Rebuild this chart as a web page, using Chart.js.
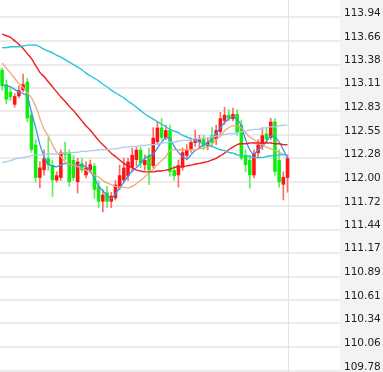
<!DOCTYPE html>
<html>
<head>
<meta charset="utf-8">
<script src="https://cdn.jsdelivr.net/npm/chart.js@4.4.0/dist/chart.umd.min.js"></script>
<style>
html, body { margin: 0; padding: 0; background: #fff; }
#wrap { width: 383px; height: 372px; }
</style>
</head>
<body>
<div id="wrap"><canvas id="kline" width="383" height="372"></canvas></div>
<script>
// candles (red = up, green = down)
const opens = [113.32,113.15,113.06,112.91,113.01,113.08,113.18,112.79,112.44,112.05,
  112.14,112.28,112.20,112.02,112.05,112.35,112.35,112.26,112.00,112.22,
  112.08,112.14,112.19,111.95,111.77,111.88,111.77,111.81,111.93,112.02,
  112.07,112.17,112.26,112.38,112.20,112.31,112.19,112.47,112.64,112.52,
  112.61,112.14,112.08,112.17,112.31,112.38,112.46,112.47,112.51,112.42,
  112.55,112.50,112.59,112.72,112.79,112.74,112.80,112.67,112.32,112.26,
  112.08,112.34,112.42,112.57,112.52,112.71,112.26,111.97,112.05];
const closes = [113.13,112.97,113.00,113.01,113.08,113.15,112.75,112.38,112.05,112.17,
  112.28,112.20,112.02,112.08,112.35,112.32,112.00,112.05,112.24,112.14,
  112.17,112.21,111.91,111.77,111.85,111.77,111.84,111.97,112.08,112.17,
  112.24,112.32,112.38,112.22,112.26,112.14,112.52,112.64,112.52,112.61,
  112.12,112.07,112.20,112.35,112.38,112.47,112.51,112.50,112.42,112.47,
  112.46,112.61,112.75,112.79,112.75,112.80,112.59,112.28,112.20,112.08,
  112.34,112.44,112.55,112.50,112.71,112.12,112.00,112.06,112.28];
const highs = [113.34,113.20,113.11,113.04,113.13,113.27,113.22,112.82,112.50,112.24,
  112.38,112.52,112.26,112.12,112.38,112.47,112.38,112.31,112.28,112.28,
  112.24,112.26,112.22,112.02,111.91,111.95,111.88,112.02,112.20,112.28,
  112.28,112.40,112.41,112.41,112.32,112.40,112.64,112.71,112.75,112.67,
  112.67,112.19,112.26,112.40,112.44,112.52,112.61,112.55,112.55,112.52,
  112.64,112.67,112.82,112.88,112.85,112.87,112.85,112.73,112.38,112.32,
  112.38,112.50,112.64,112.64,112.75,112.75,112.38,112.12,112.32];
const lows = [113.08,112.92,112.96,112.88,112.99,113.06,112.71,112.35,112.00,111.93,
  112.08,112.14,111.83,112.00,112.02,112.26,111.95,112.02,111.87,112.12,
  112.05,112.12,111.81,111.70,111.65,111.70,111.70,111.79,111.91,112.00,
  112.02,112.12,112.19,112.17,112.14,111.97,112.17,112.44,112.50,112.50,
  112.07,112.02,111.94,112.14,112.26,112.35,112.42,112.40,112.38,112.38,
  112.41,112.44,112.55,112.68,112.72,112.72,112.55,112.26,112.12,111.93,
  112.05,112.28,112.38,112.46,112.50,112.08,111.94,111.79,111.88];

// moving averages
const ma5 = [113.14,113.13,113.12,113.09,113.06,113.04,113.01,112.82,112.64,112.44,
  112.30,112.21,112.19,112.18,112.20,112.22,112.21,112.20,112.20,112.20,
  112.18,112.13,112.05,111.95,111.90,111.84,111.81,111.86,111.93,112.00,
  112.07,112.13,112.17,112.22,112.28,112.31,112.33,112.40,112.47,112.52,
  112.51,112.42,112.35,112.30,112.27,112.32,112.37,112.40,112.44,112.47,
  112.51,112.57,112.64,112.70,112.74,112.77,112.74,112.66,112.50,112.38,
  112.33,112.38,112.42,112.48,112.54,112.53,112.47,112.38,112.28];
const ma10 = [113.40,113.34,113.28,113.22,113.16,113.11,113.05,112.99,112.89,112.75,
  112.62,112.54,112.44,112.35,112.30,112.24,112.21,112.20,112.18,112.16,
  112.14,112.11,112.08,112.06,112.02,111.99,111.97,111.95,111.94,111.94,
  111.93,111.95,111.98,112.02,112.06,112.11,112.15,112.21,112.25,112.30,
  112.37,112.38,112.38,112.38,112.38,112.38,112.38,112.39,112.40,112.41,
  112.44,112.50,112.54,112.60,112.64,112.66,112.66,112.64,112.58,112.53,
  112.50,112.46,112.44,112.41,112.39,112.37,112.35,112.33,112.31];
const ma20 = [113.74,113.72,113.70,113.66,113.62,113.57,113.51,113.45,113.37,113.29,
  113.24,113.18,113.12,113.06,113.00,112.95,112.89,112.84,112.78,112.72,
  112.66,112.61,112.55,112.49,112.44,112.39,112.34,112.30,112.26,112.22,
  112.19,112.17,112.14,112.13,112.12,112.12,112.12,112.13,112.13,112.14,
  112.15,112.17,112.18,112.18,112.19,112.20,112.21,112.22,112.23,112.24,
  112.26,112.28,112.31,112.34,112.38,112.41,112.44,112.45,112.45,112.46,
  112.46,112.46,112.46,112.46,112.46,112.45,112.45,112.44,112.44];
const ma60 = [113.58,113.58,113.59,113.59,113.59,113.60,113.61,113.61,113.61,113.59,
  113.56,113.54,113.52,113.49,113.47,113.44,113.41,113.38,113.35,113.32,
  113.28,113.25,113.22,113.19,113.15,113.12,113.08,113.05,113.02,112.99,
  112.95,112.92,112.88,112.84,112.80,112.77,112.74,112.71,112.68,112.65,
  112.62,112.60,112.58,112.55,112.53,112.51,112.49,112.47,112.45,112.44,
  112.42,112.40,112.38,112.37,112.35,112.34,112.32,112.31,112.31,112.30,
  112.29,112.29,112.29,112.30,112.31,112.31,112.32,112.32,112.32];
const ma120 = [112.23,112.24,112.25,112.27,112.28,112.29,112.30,112.31,112.32,112.32,
  112.32,112.33,112.33,112.33,112.34,112.34,112.34,112.35,112.35,112.36,
  112.36,112.37,112.37,112.38,112.38,112.38,112.39,112.39,112.40,112.41,
  112.41,112.42,112.42,112.43,112.43,112.44,112.44,112.45,112.46,112.46,
  112.47,112.47,112.48,112.49,112.49,112.50,112.51,112.51,112.52,112.52,
  112.53,112.54,112.55,112.56,112.57,112.57,112.58,112.59,112.60,112.61,
  112.62,112.62,112.63,112.64,112.65,112.65,112.66,112.67,112.67];

// price axis
const yTickLabels = ['113.94','113.66','113.38','113.11','112.83','112.55','112.28','112.00',
  '111.72','111.44','111.17','110.89','110.61','110.34','110.06','109.78'];
const yMin = 109.768, yMax = 114.14;
const totalSlots = 81; // candles plus empty space to the right

const slots = Array.from({length: totalSlots}, (_, i) => i);
const isUp = opens.map((o, i) => closes[i] >= o);
const UP = '#ff1414', DOWN = '#10ee10';
const UP_WICK = '#ff6a6a', DOWN_WICK = '#5cf05c';

const panelPlugin = {
  id: 'panel',
  beforeDraw(chart) {
    const {ctx, chartArea, width, height} = chart;
    ctx.save();
    ctx.fillStyle = '#f3f3f3';
    ctx.fillRect(chartArea.right, 0, width - chartArea.right, height);
    ctx.restore();
  },
  beforeDatasetsDraw(chart) {
    const {ctx, height} = chart;
    const x = Math.round(chart.scales.x.getPixelForValue(opens.length - 1)) + 0.5;
    ctx.save();
    ctx.strokeStyle = '#e3e3e3';
    ctx.lineWidth = 1;
    ctx.beginPath();
    ctx.moveTo(x, 0);
    ctx.lineTo(x, height);
    ctx.stroke();
    ctx.restore();
  }
};

function maLine(data, color, width) {
  return {
    type: 'line',
    data: data,
    borderColor: color,
    borderWidth: width,
    pointRadius: 0,
    tension: 0.25,
    fill: false,
    order: 0
  };
}

new Chart(document.getElementById('kline'), {
  type: 'bar',
  data: {
    labels: slots,
    datasets: [
      maLine(ma120, '#a9cde6', 1.3),
      maLine(ma60, '#26c6d6', 1.4),
      maLine(ma20, '#f01e1e', 1.4),
      maLine(ma10, '#efa87a', 1.3),
      maLine(ma5, '#3d8ff0', 1.3),
      {
        data: opens.map((o, i) => [o, closes[i]]),
        backgroundColor: isUp.map(u => u ? UP : DOWN),
        barPercentage: 0.85,
        categoryPercentage: 1,
        minBarLength: 1,
        grouped: false,
        order: 1
      },
      {
        data: lows.map((l, i) => [l, highs[i]]),
        backgroundColor: isUp.map(u => u ? UP_WICK : DOWN_WICK),
        barThickness: 1,
        grouped: false,
        order: 2
      }
    ]
  },
  options: {
    responsive: false,
    animation: false,
    layout: { padding: 0 },
    plugins: { legend: { display: false }, tooltip: { enabled: false } },
    scales: {
      x: { display: false },
      y: {
        position: 'right',
        min: yMin,
        max: yMax,
        afterBuildTicks(scale) {
          scale.ticks = yTickLabels.map(s => ({ value: parseFloat(s) }));
        },
        afterFit(scale) {
          scale.width = 43;
          scale.paddingTop = 0;
          scale.paddingBottom = 0;
        },
        grid: { color: '#ececec', lineWidth: 2, drawTicks: false },
        border: { display: false },
        ticks: {
          padding: 4,
          labelOffset: -4,
          color: '#222',
          font: { family: 'DejaVu Sans', size: 10.5 },
          callback: (v) => Number(v).toFixed(2)
        }
      }
    }
  },
  plugins: [panelPlugin]
});
</script>
</body>
</html>
